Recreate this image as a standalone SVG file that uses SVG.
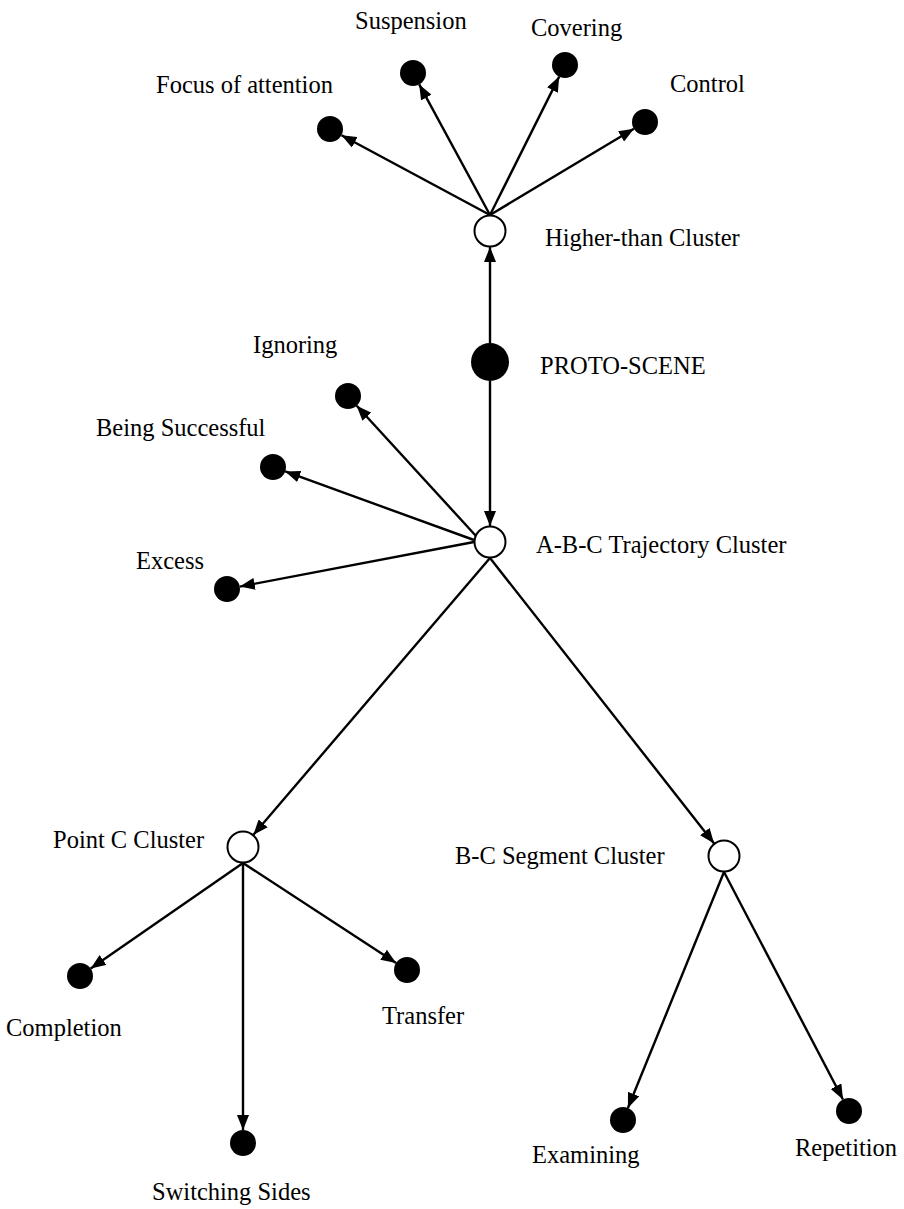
<svg xmlns="http://www.w3.org/2000/svg" width="904" height="1209" viewBox="0 0 904 1209">
  <style>
    .lbl { font-family: "Liberation Serif", "Times New Roman", serif; font-size: 24.5px; fill: #000; }
    .dot { fill: #000; }
    .hub { fill: #fff; stroke: #000; stroke-width: 2; }
    .edge { stroke: #000; stroke-width: 2.4; fill: none; marker-end: url(#arrow); }
  </style>
  <defs>
    <marker id="arrow" markerUnits="userSpaceOnUse" markerWidth="16" markerHeight="12" refX="15" refY="6" orient="auto">
      <path d="M0,0 L15,6 L0,12 z" fill="#000"/>
    </marker>
  </defs>
  <rect width="904" height="1209" fill="#fff"/>

  <g id="connectors">
    <line class="edge" x1="490" y1="215" x2="341.5" y2="135.2"/>
    <line class="edge" x1="490" y1="215" x2="419.2" y2="84.4"/>
    <line class="edge" x1="490" y1="215" x2="559.2" y2="76.6"/>
    <line class="edge" x1="490" y1="215" x2="633.9" y2="128.7"/>
    <line class="edge" x1="490" y1="343" x2="490" y2="247"/>
    <line class="edge" x1="490" y1="381" x2="490" y2="526"/>
    <line class="edge" x1="476" y1="536" x2="356.7" y2="405.7"/>
    <line class="edge" x1="474" y1="540" x2="285.2" y2="471.4"/>
    <line class="edge" x1="474" y1="542" x2="239.8" y2="586.6"/>
    <line class="edge" x1="490" y1="558" x2="253.4" y2="834.8"/>
    <line class="edge" x1="490" y1="558" x2="714.1" y2="843.4"/>
    <line class="edge" x1="243" y1="863" x2="90.7" y2="968.6"/>
    <line class="edge" x1="243" y1="863" x2="243" y2="1130"/>
    <line class="edge" x1="243" y1="863" x2="396.1" y2="962.9"/>
    <line class="edge" x1="724" y1="872" x2="627.9" y2="1108"/>
    <line class="edge" x1="724" y1="872" x2="843" y2="1099.5"/>
  </g>

  <g id="higher-than-cluster">
    <circle class="hub" cx="490" cy="231" r="15.5"/>
    <text class="lbl" x="545" y="246">Higher-than Cluster</text>
  </g>
  <g id="focus-of-attention">
    <circle class="dot" cx="330" cy="129" r="13"/>
    <text class="lbl" x="156" y="93">Focus of attention</text>
  </g>
  <g id="suspension">
    <circle class="dot" cx="413" cy="73" r="13"/>
    <text class="lbl" x="355" y="29">Suspension</text>
  </g>
  <g id="covering">
    <circle class="dot" cx="565" cy="65" r="13"/>
    <text class="lbl" x="531" y="36">Covering</text>
  </g>
  <g id="control">
    <circle class="dot" cx="645" cy="122" r="13"/>
    <text class="lbl" x="670" y="92">Control</text>
  </g>
  <g id="proto-scene">
    <circle class="dot" cx="490" cy="362" r="19"/>
    <text class="lbl" x="540" y="374">PROTO-SCENE</text>
  </g>
  <g id="abc-trajectory-cluster">
    <circle class="hub" cx="490" cy="542" r="15.5"/>
    <text class="lbl" x="536" y="553">A-B-C Trajectory Cluster</text>
  </g>
  <g id="ignoring">
    <circle class="dot" cx="348" cy="396" r="13"/>
    <text class="lbl" x="253" y="353">Ignoring</text>
  </g>
  <g id="being-successful">
    <circle class="dot" cx="273" cy="467" r="13"/>
    <text class="lbl" x="96" y="436">Being Successful</text>
  </g>
  <g id="excess">
    <circle class="dot" cx="227" cy="589" r="13"/>
    <text class="lbl" x="136" y="569">Excess</text>
  </g>
  <g id="point-c-cluster">
    <circle class="hub" cx="243" cy="847" r="15.5"/>
    <text class="lbl" x="53" y="848">Point C Cluster</text>
  </g>
  <g id="bc-segment-cluster">
    <circle class="hub" cx="724" cy="856" r="15.5"/>
    <text class="lbl" x="455" y="864">B-C Segment Cluster</text>
  </g>
  <g id="completion">
    <circle class="dot" cx="80" cy="976" r="13"/>
    <text class="lbl" x="6" y="1036">Completion</text>
  </g>
  <g id="switching-sides">
    <circle class="dot" cx="243" cy="1143" r="13"/>
    <text class="lbl" x="152" y="1200">Switching Sides</text>
  </g>
  <g id="transfer">
    <circle class="dot" cx="407" cy="970" r="13"/>
    <text class="lbl" x="382" y="1024">Transfer</text>
  </g>
  <g id="examining">
    <circle class="dot" cx="623" cy="1120" r="13"/>
    <text class="lbl" x="532" y="1163">Examining</text>
  </g>
  <g id="repetition">
    <circle class="dot" cx="849" cy="1111" r="13"/>
    <text class="lbl" x="795" y="1156">Repetition</text>
  </g>
</svg>
